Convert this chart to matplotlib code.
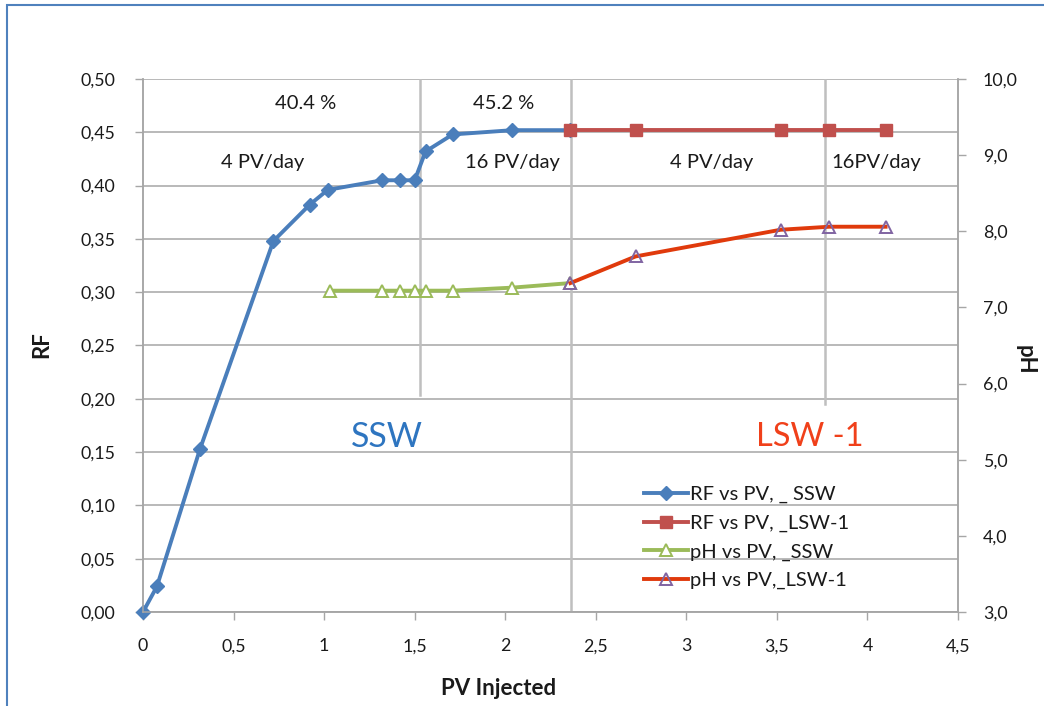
import matplotlib.pyplot as plt
from matplotlib.patches import Rectangle
from matplotlib.ticker import FuncFormatter, MultipleLocator

plt.rcParams['font.family'] = ['Lato', 'DejaVu Sans']

# RF vs PV injected
pv_rf_ssw = [0.0, 0.077, 0.315, 0.72, 0.92, 1.02, 1.32, 1.42, 1.50, 1.56, 1.71, 2.04, 2.36]
rf_ssw = [0.000, 0.024, 0.153, 0.348, 0.382, 0.396, 0.405, 0.405, 0.405, 0.432, 0.448, 0.452, 0.452]

pv_rf_lsw = [2.36, 2.72, 3.52, 3.79, 4.10]
rf_lsw = [0.452, 0.452, 0.452, 0.452, 0.452]

# pH vs PV injected
pv_ph_ssw = [1.03, 1.32, 1.42, 1.50, 1.56, 1.71, 2.04, 2.36]
ph_ssw = [7.22, 7.22, 7.22, 7.22, 7.22, 7.22, 7.26, 7.32]

pv_ph_lsw = [2.36, 2.72, 3.52, 3.79, 4.10]
ph_lsw = [7.32, 7.67, 8.02, 8.06, 8.06]

# injection-rate changes (x position, lower end in RF units)
switch_pv = [1.53, 2.365, 3.765]
switch_bottom = [0.204, 0.0, 0.195]

recovery_labels = ['40.4 %', '45.2 %']
recovery_pos = [0.90, 1.99]
rate_labels = ['4 PV/day', '16 PV/day', '4 PV/day', '16PV/day']
rate_pos = [0.66, 2.04, 3.14, 4.05]

fig = plt.figure(figsize=(10.44, 7.06), dpi=100)
fig.patches.append(Rectangle((7 / 1044, -0.1), 1.2, 1.1 - 5 / 706,
                             transform=fig.transFigure, fill=False,
                             edgecolor='#4F81BD', linewidth=1.5))

ax = fig.add_axes([143 / 1044, 94 / 706, 815 / 1044, 533 / 706])
ax2 = ax.twinx()

grid_c = '#A6A6A6'
text_c = '#1a1a1a'

ax.set_xlim(0, 4.5)
ax.set_ylim(0, 0.5)
ax2.set_ylim(3, 10)
ax.xaxis.set_major_locator(MultipleLocator(0.5))
ax.yaxis.set_major_locator(MultipleLocator(0.05))
ax2.yaxis.set_major_locator(MultipleLocator(1))

comma = lambda fmt: FuncFormatter(lambda v, p: fmt.format(v).replace('.', ','))
ax.xaxis.set_major_formatter(FuncFormatter(lambda v, p: ('%g' % v).replace('.', ',')))
ax.yaxis.set_major_formatter(comma('{:.2f}'))
ax2.yaxis.set_major_formatter(comma('{:.1f}'))

ax.yaxis.grid(True, color=grid_c, linewidth=1.1)
ax.set_axisbelow(True)
for a in (ax, ax2):
    a.spines['top'].set_visible(False)
    for s in ('left', 'right', 'bottom'):
        a.spines[s].set_color(grid_c)
        a.spines[s].set_linewidth(1.1)
    a.tick_params(colors=grid_c, labelcolor=text_c, labelsize=12.8, length=6, width=1)
ax.tick_params(axis='y', pad=14)
ax.tick_params(axis='x', pad=13)
ax2.tick_params(axis='y', pad=12)

for x, yb in zip(switch_pv, switch_bottom):
    ax.plot([x, x], [yb, 0.5], color='#BFBFBF', linewidth=1.8, zorder=1)

ax.plot(pv_rf_ssw, rf_ssw, color='#4A7EBB', linewidth=2.8, marker='D',
        markersize=7.5, label='RF vs PV, _ SSW', zorder=3, clip_on=False)
ax.plot(pv_rf_lsw, rf_lsw, color='#C0504D', linewidth=2.8, marker='s',
        markersize=8, label='RF vs PV, _LSW-1', zorder=3)
ax2.plot(pv_ph_ssw, ph_ssw, color='#9BBB59', linewidth=2.8, marker='^',
         markersize=9, markerfacecolor='white', markeredgecolor='#9BBB59',
         markeredgewidth=1.4, label='pH vs PV, _SSW', zorder=3)
ax2.plot(pv_ph_lsw, ph_lsw, color='#E03A0C', linewidth=2.8, marker='^',
         markersize=9, markerfacecolor='none', markeredgecolor='#8064A2',
         markeredgewidth=1.4, label='pH vs PV,_LSW-1', zorder=3)

for lbl, x in zip(recovery_labels, recovery_pos):
    ax.text(x, 0.477, lbl, ha='center', va='center', fontsize=14.5, color=text_c)
for lbl, x in zip(rate_labels, rate_pos):
    ax.text(x, 0.422, lbl, ha='center', va='center', fontsize=14.5, color=text_c)

ax.text(1.345, 0.164, 'SSW', ha='center', va='center', fontsize=24.5, color='#2E75C0')
ax.text(3.68, 0.164, 'LSW -1', ha='center', va='center', fontsize=23.5, color='#F0401A')

ax.set_ylabel('RF', fontsize=16, fontweight='bold', color=text_c)
ax.set_xlabel('PV Injected', fontsize=16, fontweight='bold', color=text_c)
ax2.set_ylabel('pH', fontsize=16, fontweight='bold', rotation=-90, color=text_c,
               va='center')
ax.yaxis.set_label_coords(-0.124, 0.501)
ax.xaxis.set_label_coords(0.436, -0.1426)
ax2.yaxis.set_label_coords(1.082, 0.473)
ax.xaxis.label.set_va('center')
ax.yaxis.label.set_va('center')

h1, l1 = ax.get_legend_handles_labels()
h2, l2 = ax2.get_legend_handles_labels()
leg = ax2.legend(h1 + h2, l1 + l2, loc='upper left', frameon=False,
                 bbox_to_anchor=(630 / 1044, 1 - 472 / 706),
                 bbox_transform=fig.transFigure, fontsize=14.5,
                 handlelength=2.2, handletextpad=0.1, labelspacing=0.56,
                 borderpad=0.2)
for t in leg.get_texts():
    t.set_color(text_c)

fig.savefig('out.png', dpi=100)
